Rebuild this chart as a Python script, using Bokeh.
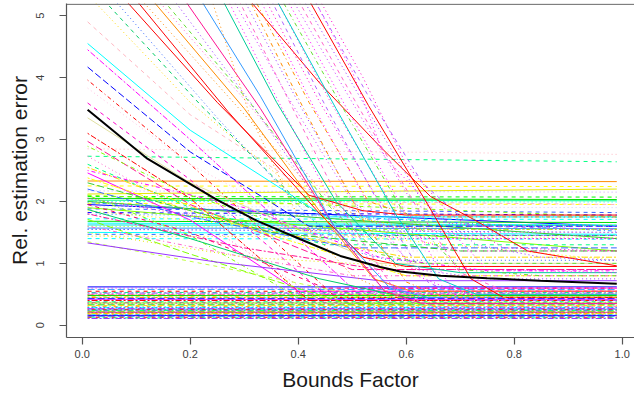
from bokeh.plotting import figure
from bokeh.models import Range1d, NumeralTickFormatter, FixedTicker, Span
from bokeh.embed import file_html
from bokeh.resources import INLINE

# ---------------- data ----------------
X_START = 0.01
X_END = 0.99

# mean curve (thick black)
mean_x = [0.01, 0.119, 0.249, 0.323, 0.404, 0.478, 0.552, 0.589, 0.664, 0.75, 0.849, 0.99]
mean_y = [3.48, 2.70, 2.03, 1.69, 1.39, 1.12, 0.94, 0.87, 0.80, 0.76, 0.72, 0.67]

# flat lines in the low band (constant over x)
low_levels = [0.62, 0.60, 0.58, 0.55, 0.53, 0.52, 0.50, 0.49, 0.48, 0.46, 0.45,
              0.44, 0.43, 0.42, 0.41, 0.40, 0.38, 0.37, 0.36, 0.35, 0.33, 0.32,
              0.30, 0.29, 0.28, 0.27, 0.26, 0.25, 0.24, 0.23, 0.22, 0.21, 0.20,
              0.19, 0.18, 0.17, 0.16, 0.15, 0.14, 0.13, 0.12, 0.11]

# nearly flat lines in the middle band: value at x=0.01 and at x=0.99
mid_start = [2.85, 2.73, 2.33, 2.25, 2.12, 2.17, 2.08, 2.05, 2.02, 2.00, 1.97,
             1.95, 1.92, 1.88, 1.82, 1.79, 1.72, 1.68, 1.65, 1.62, 1.60, 1.57,
             1.55, 1.50, 1.47, 1.44, 1.40, 2.00, 1.90, 1.85, 2.10, 1.98]
mid_end = [2.76, 2.64, 2.32, 2.24, 2.20, 2.15, 2.07, 2.03, 2.01, 1.99, 1.95,
           1.60, 1.90, 1.82, 1.78, 1.74, 1.71, 1.66, 1.62, 1.61, 1.55, 1.56,
           1.50, 1.47, 1.45, 1.42, 1.39, 1.40, 1.20, 1.05, 1.75, 1.52]

# lines starting inside the plot on the left and falling to a plateau
left_lines = [
    [(0.01, 4.90), (0.20, 3.40), (0.45, 2.00), (0.99, 1.95)],
    [(0.01, 4.55), (0.20, 3.15), (0.45, 1.75), (0.99, 1.75)],
    [(0.01, 4.45), (0.20, 3.00), (0.50, 0.60), (0.99, 0.60)],
    [(0.01, 4.17), (0.20, 2.80), (0.42, 1.60), (0.99, 1.60)],
    [(0.01, 3.96), (0.20, 2.60), (0.47, 0.45), (0.99, 0.45)],
    [(0.01, 3.83), (0.20, 2.60), (0.50, 1.20), (0.99, 1.20)],
    [(0.01, 3.59), (0.20, 2.35), (0.45, 0.50), (0.99, 0.50)],
    [(0.01, 3.35), (0.20, 2.30), (0.55, 1.00), (0.99, 1.00)],
    [(0.01, 3.10), (0.20, 2.05), (0.42, 0.40), (0.99, 0.40)],
    [(0.01, 2.97), (0.20, 1.95), (0.50, 0.90), (0.99, 0.90)],
    [(0.01, 2.89), (0.20, 2.10), (0.40, 1.55), (0.99, 1.55)],
    [(0.01, 2.73), (0.20, 1.80), (0.45, 0.35), (0.99, 0.35)],
    [(0.01, 2.60), (0.20, 1.90), (0.45, 1.30), (0.99, 1.30)],
    [(0.01, 2.46), (0.20, 1.70), (0.40, 0.55), (0.99, 0.55)],
    [(0.01, 2.38), (0.20, 1.85), (0.60, 0.80), (0.99, 0.80)],
    [(0.01, 2.20), (0.20, 1.75), (0.50, 1.25), (0.99, 1.25)],
    [(0.01, 2.10), (0.20, 1.45), (0.40, 0.45), (0.99, 0.45)],
    [(0.01, 2.05), (0.25, 1.70), (0.60, 1.40), (0.99, 1.40)],
    [(0.01, 1.95), (0.20, 1.50), (0.45, 0.60), (0.99, 0.60)],
    [(0.01, 1.87), (0.20, 1.40), (0.44, 0.75), (0.60, 0.45), (0.99, 0.45)],
    [(0.01, 1.80), (0.30, 1.25), (0.55, 0.90), (0.99, 0.90)],
    [(0.01, 1.71), (0.20, 1.15), (0.49, 0.35), (0.99, 0.35)],
    [(0.01, 1.60), (0.30, 1.10), (0.50, 0.80), (0.99, 0.80)],
    [(0.01, 1.50), (0.30, 1.10), (0.60, 0.95), (0.99, 0.95)],
    [(0.01, 1.35), (0.25, 0.95), (0.50, 0.50), (0.99, 0.50)],
    [(0.01, 1.33), (0.25, 1.02), (0.55, 0.72), (0.99, 0.72)],
    [(0.01, 2.55), (0.30, 1.60), (0.60, 1.10), (0.99, 1.10)],
    [(0.01, 2.30), (0.35, 1.50), (0.70, 1.20), (0.99, 1.20)],
    [(0.01, 2.50), (0.30, 1.90), (0.55, 1.10), (0.75, 0.88), (0.99, 0.88)],
]

# steep lines entering from the top edge (left part of the fan)
steep_left = [
    [(0.02, 5.25), (0.20, 3.60), (0.40, 2.15), (0.50, 1.75), (0.58, 1.62), (0.99, 1.62)],
    [(0.04, 5.25), (0.22, 3.55), (0.40, 2.00), (0.48, 1.60), (0.55, 1.45), (0.99, 1.45)],
    [(0.06, 5.25), (0.25, 3.35), (0.42, 1.75), (0.50, 1.20), (0.57, 1.05), (0.99, 1.05)],
    [(0.08, 5.25), (0.25, 3.60), (0.42, 2.10), (0.52, 1.85), (0.60, 1.78), (0.99, 1.78)],
    [(0.10, 5.25), (0.27, 3.45), (0.44, 1.80), (0.52, 1.10), (0.60, 0.95), (0.99, 0.95)],
    [(0.11, 5.25), (0.28, 3.60), (0.44, 2.05), (0.55, 1.62), (0.64, 1.55), (0.99, 1.55)],
    [(0.13, 5.25), (0.30, 3.50), (0.46, 1.60), (0.54, 0.75), (0.61, 0.55), (0.99, 0.55)],
    [(0.14, 5.25), (0.30, 3.65), (0.45, 2.10), (0.56, 1.60), (0.66, 1.50), (0.99, 1.50)],
    [(0.15, 5.25), (0.31, 3.60), (0.46, 1.90), (0.55, 1.15), (0.63, 1.00), (0.99, 1.00)],
    [(0.17, 5.25), (0.32, 3.50), (0.47, 1.55), (0.55, 0.65), (0.62, 0.45), (0.99, 0.45)],
    [(0.19, 5.25), (0.33, 3.50), (0.47, 1.55), (0.56, 0.55), (0.63, 0.35), (0.99, 0.35)],
    [(0.22, 5.25), (0.33, 3.70), (0.47, 1.55), (0.57, 0.60), (0.64, 0.45), (0.99, 0.45)],
    [(0.24, 5.25), (0.31, 3.40), (0.40, 1.75), (0.50, 0.80), (0.60, 0.40), (0.99, 0.40)],
    [(0.26, 5.25), (0.36, 3.60), (0.47, 2.00), (0.58, 1.00), (0.70, 0.85), (0.99, 0.85)],
]

# dense bundle of steep lines on the right of the fan
steep_right = [
    [(0.27, 5.25), (0.37, 3.50), (0.48, 1.70), (0.56, 0.70), (0.62, 0.50), (0.99, 0.50)],
    [(0.28, 5.25), (0.38, 3.70), (0.50, 2.00), (0.57, 1.55), (0.64, 1.40), (0.99, 1.40)],
    [(0.29, 5.25), (0.39, 3.50), (0.50, 1.60), (0.58, 0.55), (0.65, 0.30), (0.99, 0.30)],
    [(0.30, 5.25), (0.40, 3.60), (0.51, 1.90), (0.62, 0.90), (0.75, 0.75), (0.99, 0.75)],
    [(0.31, 5.25), (0.44, 3.91), (0.55, 2.90), (0.645, 2.08), (0.725, 1.71), (0.825, 1.20), (0.99, 0.96)],
    [(0.32, 5.25), (0.42, 3.60), (0.53, 2.00), (0.60, 1.80), (0.67, 1.75), (0.99, 1.75)],
    [(0.33, 5.25), (0.43, 3.50), (0.54, 1.80), (0.62, 0.80), (0.69, 0.55), (0.99, 0.55)],
    [(0.34, 5.25), (0.44, 3.60), (0.55, 2.00), (0.63, 1.35), (0.70, 1.20), (0.99, 1.20)],
    [(0.35, 5.25), (0.45, 3.55), (0.56, 1.80), (0.64, 0.70), (0.71, 0.40), (0.99, 0.40)],
    [(0.36, 5.25), (0.46, 3.60), (0.57, 2.00), (0.64, 1.55), (0.71, 1.45), (0.99, 1.45)],
    [(0.36, 5.25), (0.47, 3.50), (0.58, 1.80), (0.66, 0.75), (0.73, 0.50), (0.99, 0.50)],
    [(0.37, 5.25), (0.48, 3.55), (0.59, 1.90), (0.70, 0.90), (0.85, 0.80), (0.99, 0.80)],
    [(0.38, 5.25), (0.49, 3.50), (0.60, 1.80), (0.68, 0.65), (0.75, 0.35), (0.99, 0.35)],
    [(0.39, 5.25), (0.50, 3.60), (0.61, 2.00), (0.68, 1.65), (0.75, 1.60), (0.99, 1.60)],
    [(0.40, 5.25), (0.51, 3.55), (0.62, 1.90), (0.70, 0.85), (0.77, 0.60), (0.99, 0.60)],
    [(0.41, 5.25), (0.52, 3.60), (0.63, 2.00), (0.73, 1.30), (0.85, 1.10), (0.99, 1.05)],
    [(0.42, 5.25), (0.53, 3.55), (0.64, 1.95), (0.72, 0.75), (0.78, 0.45), (0.99, 0.45)],
    [(0.31, 5.25), (0.41, 3.50), (0.52, 1.70), (0.60, 0.70), (0.67, 0.45), (0.99, 0.45)],
    [(0.43, 5.25), (0.50, 4.10), (0.56, 2.72), (0.60, 2.35), (0.645, 1.92), (0.68, 1.55), (0.75, 0.90), (0.99, 0.85)],
    [(0.44, 5.25), (0.52, 4.00), (0.60, 2.60), (0.68, 1.80), (0.78, 1.25), (0.99, 1.20)],
    [(0.43, 5.25), (0.53, 3.70), (0.63, 2.30), (0.72, 1.60), (0.99, 1.55)],
]

# ---------------- styles ----------------
DASHES = ["solid", "4 4", "1 3", "1 3 4 3", "7 3", "2 2 6 2"]
LOW_COLORS = ["#0000FF", "#9933FF", "#FF8C00", "#FF0000", "#00DD00", "#FF00FF",
              "#80FF00", "#00FFFF", "#00FF80", "#FFD700", "#3399FF", "#FF1493"]
MID_COLORS = ["#FFB6C1", "#00FF80", "#FF8C00", "#FFFF00", "#E6E600", "#C8A2FF",
              "#00FF00", "#00DD00", "#00FF80", "#00FFFF", "#FFFF00", "#0000FF",
              "#D0D0FF", "#3366FF", "#0000FF", "#3399FF", "#00FFFF", "#00DD00",
              "#00FFFF", "#00E5E5", "#80FF00", "#3399FF", "#0000FF", "#00FFFF",
              "#3366FF", "#E6E600", "#00FFFF", "#33CC33", "#80FF00", "#FFFF00",
              "#80FF00", "#3399FF"]
MID_DASH = ["1 3", "4 4", "solid", "4 4", "solid", "1 3", "4 4", "solid", "solid",
            "1 3", "4 4", "solid", "1 3", "4 4", "4 4", "1 3", "4 4", "solid",
            "solid", "solid", "1 3", "solid", "1 3", "solid", "4 4", "1 3", "4 4",
            "solid", "solid", "1 3", "4 4", "1 3 4 3"]
LEFT_COLORS = ["#FFB6C1", "#00FFFF", "#FF00FF", "#0000FF", "#FF0000", "#FFC0E0",
               "#FF00CC", "#E0E0A0", "#FF0000", "#FF1493", "#80FF00", "#FF66CC",
               "#00FF80", "#FF00FF", "#FFFF00", "#3366FF", "#80FF00", "#FF00CC",
               "#FF0066", "#00CC66", "#FF1493", "#80FF00", "#FF66CC", "#E6E600",
               "#C0FF40", "#9933FF", "#FFD700", "#33CC33", "#FF00FF"]
STEEP_COLORS = ["#FFD700", "#00CC66", "#3366FF", "#FF0000", "#FF0000", "#FF8C00",
                "#FF8C00", "#FF66CC", "#66DD33", "#9933FF", "#FF1493", "#3399FF",
                "#FF8C00", "#00CC99"]
RIGHT_COLORS = ["#FF00FF", "#CC33FF", "#FF66CC", "#9933FF", "#FF0000", "#FF8C00",
                "#FF00FF", "#FF00CC", "#B266FF", "#FF33CC", "#00CCCC", "#66DD33"]
RIGHT_DASH = ["1 3", "1 3", "4 4", "1 3", "solid", "1 3 4 3"]
AXIS_GRAY = "#555555"

Y_TOP = 5.196
Y_BOTTOM = -0.197

p = figure(width=634, height=393, output_backend="svg", toolbar_location=None,
           x_range=Range1d(-0.0291, 1.0228), y_range=Range1d(Y_BOTTOM, Y_TOP),
           min_border_left=66, min_border_right=0, min_border_top=3,
           min_border_bottom=54)
p.outline_line_color = None
p.xgrid.visible = False
p.ygrid.visible = False
p.background_fill_color = "white"
p.border_fill_color = "white"


def draw(pts, color, dash, width=1.0, alpha=1.0):
    xs = [q[0] for q in pts]
    ys = [q[1] for q in pts]
    p.line(xs, ys, line_color=color, line_dash=dash, line_width=width, line_alpha=alpha)


for i, (a, b) in enumerate(zip(mid_start, mid_end)):
    draw([(X_START, a), (X_END, b)], MID_COLORS[i % len(MID_COLORS)], MID_DASH[i % len(MID_DASH)])

for i, lv in enumerate(low_levels):
    draw([(X_START, lv), (X_END, lv)], LOW_COLORS[(i * 5) % len(LOW_COLORS)], DASHES[(i * 2 + i // 3) % len(DASHES)])

for i, pts in enumerate(left_lines):
    draw(pts, LEFT_COLORS[i % len(LEFT_COLORS)], DASHES[(i * 5 + 1) % len(DASHES)])

for i, pts in enumerate(steep_left):
    draw(pts, STEEP_COLORS[i % len(STEEP_COLORS)], ["1 3", "4 4", "1 3", "solid", "solid", "1 3", "solid"][i % 7])

for i, pts in enumerate(steep_right):
    draw(pts, RIGHT_COLORS[i % len(RIGHT_COLORS)], RIGHT_DASH[i % len(RIGHT_DASH)])

draw(list(zip(mean_x, mean_y)), "#000000", "solid", width=2.0)

# top side of the box (right side is cut off in the original)
p.add_layout(Span(location=Y_TOP - 0.012, dimension="width", line_color=AXIS_GRAY, line_width=1.2))

# ---------------- axes ----------------
p.xaxis.ticker = FixedTicker(ticks=[0.0, 0.2, 0.4, 0.6, 0.8, 1.0])
p.xaxis.formatter = NumeralTickFormatter(format="0.0")
p.yaxis.ticker = FixedTicker(ticks=[0, 1, 2, 3, 4, 5])
p.xaxis.axis_label = "Bounds Factor"
p.yaxis.axis_label = "Rel. estimation error"
for ax in (p.xaxis[0], p.yaxis[0]):
    ax.axis_line_color = AXIS_GRAY
    ax.axis_line_width = 1.2
    ax.major_tick_line_color = AXIS_GRAY
    ax.major_tick_line_width = 1.2
    ax.major_tick_out = 7
    ax.major_tick_in = 0
    ax.minor_tick_out = 0
    ax.minor_tick_in = 0
    ax.major_label_text_font = "Liberation Sans"
    ax.major_label_text_font_size = "11px"
    ax.major_label_text_color = "#404040"
    ax.axis_label_text_font = "Liberation Sans"
    ax.axis_label_text_font_size = "21px"
    ax.axis_label_text_font_style = "normal"
    ax.axis_label_text_color = "#1a1a1a"
p.yaxis.major_label_orientation = "vertical"
p.xaxis.major_label_standoff = 5
p.xaxis.axis_label_standoff = 7
p.yaxis.major_label_standoff = 15
p.yaxis.axis_label_standoff = 3

open("out.html", "w").write(file_html(p, INLINE))
